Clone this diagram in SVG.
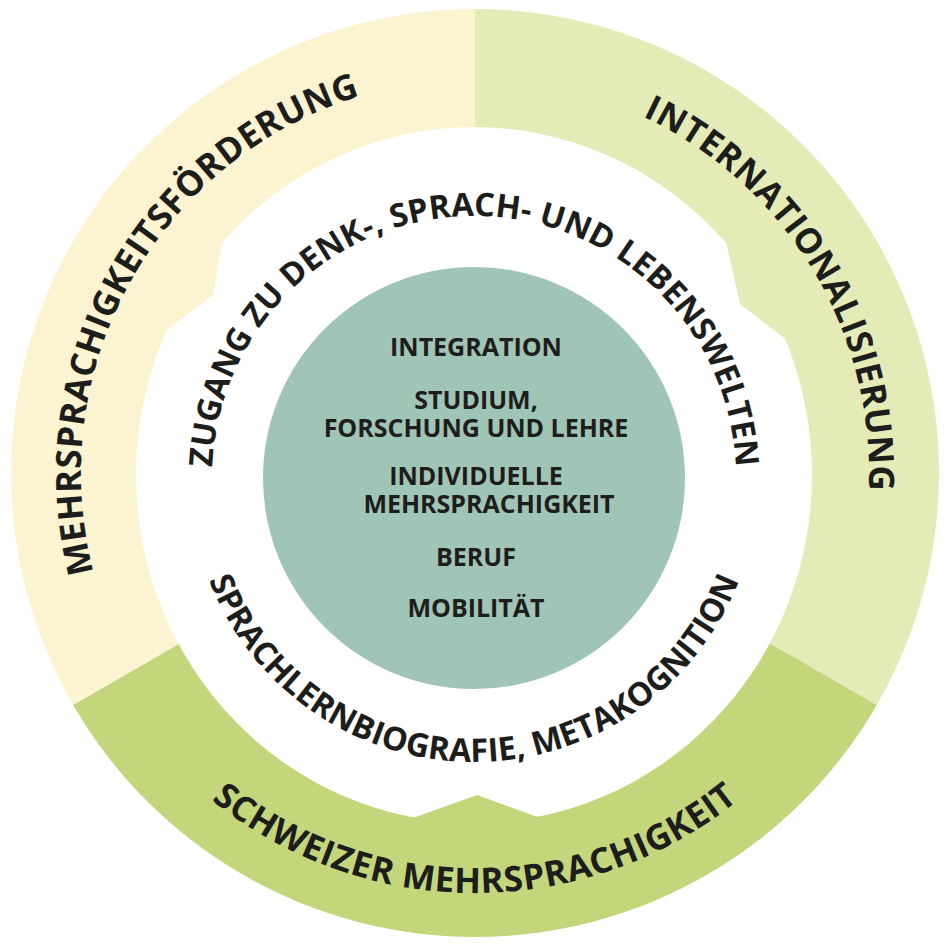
<svg xmlns="http://www.w3.org/2000/svg" xmlns:xlink="http://www.w3.org/1999/xlink" width="948" height="946" viewBox="0 0 948 946">
  <style>
    .lbl { font-family: "Open Sans", "Noto Sans", "Liberation Sans", sans-serif; font-weight: 700; fill: #1d1d1b; }
    .ring { font-size: 32.5px; }
    .outer { font-size: 35px; letter-spacing: 0.5px; }
    .core { font-size: 25px; text-anchor: middle; }
  </style>
  <defs>
    <path id="p-top" d="M227.8,567.6 A262,262 0 1 1 720.2,567.6"/>
    <path id="p-bot" d="M207.1,380.9 A284,284 0 1 0 740.9,380.9"/>
    <path id="p-left" d="M282.5,816.8 A394,394 0 0 1 131.2,280.5 A394,394 0 0 1 667.5,129.2"/>
    <path id="p-right" d="M271.5,135.6 A394,394 0 0 1 812.4,269.5 A394,394 0 0 1 678.5,810.4"/>
    <path id="p-bottom" d="M55,473 A420,420 0 0 0 475,893 A420,420 0 0 0 895,473"/>
  </defs>
  <rect width="948" height="946" fill="#ffffff"/>

  <g id="sector-mehrsprachigkeitsfoerderung">
    <path d="M475,473 L475,9 A464,464 0 0 0 73.2,705 Z" fill="#fcf4d0"/>
  </g>
  <g id="sector-internationalisierung">
    <path d="M475,473 L475,9 A464,464 0 0 1 876.8,705 Z" fill="#e5ebb6"/>
  </g>
  <g id="sector-schweizer-mehrsprachigkeit">
    <path d="M475,473 L73.2,705 A464,464 0 0 0 876.8,705 Z" fill="#c4d67c"/>
  </g>

  <g id="inner-ring">
    <ellipse cx="474" cy="475" rx="338" ry="348" fill="#ffffff"/>
    <polygon points="223,240 213,295 163,333 136,321 201,220" fill="#fcf4d0"/>
    <polygon points="725,237 740,304 792,344 818,332 747,216" fill="#e5ebb6"/>
    <polygon points="413,818 477,795 540,818 540,836 413,836" fill="#c4d67c"/>
  </g>

  <g id="core">
    <circle cx="474" cy="478" r="211" fill="#a0c4b5"/>
  </g>

  <g id="connectors"></g>

  <g id="label-mehrsprachigkeitsfoerderung">
    <text class="lbl outer"><textPath xlink:href="#p-left" href="#p-left" startOffset="50%" text-anchor="middle">MEHRSPRACHIGKEITSFÖRDERUNG</textPath></text>
  </g>
  <g id="label-internationalisierung">
    <text class="lbl outer"><textPath xlink:href="#p-right" href="#p-right" startOffset="50%" text-anchor="middle">INTERNATIONALISIERUNG</textPath></text>
  </g>
  <g id="label-schweizer-mehrsprachigkeit">
    <text class="lbl outer"><textPath xlink:href="#p-bottom" href="#p-bottom" startOffset="50%" text-anchor="middle">SCHWEIZER MEHRSPRACHIGKEIT</textPath></text>
  </g>
  <g id="label-zugang">
    <text class="lbl ring"><textPath xlink:href="#p-top" href="#p-top" startOffset="50%" text-anchor="middle">ZUGANG ZU DENK-, SPRACH- UND LEBENSWELTEN</textPath></text>
  </g>
  <g id="label-sprachlernbiografie">
    <text class="lbl ring"><textPath xlink:href="#p-bot" href="#p-bot" startOffset="50%" text-anchor="middle">SPRACHLERNBIOGRAFIE, METAKOGNITION</textPath></text>
  </g>

  <g id="core-labels">
    <text class="lbl core" x="476" y="356">INTEGRATION</text>
    <text class="lbl core" x="476" y="409">STUDIUM,</text>
    <text class="lbl core" x="476" y="437">FORSCHUNG UND LEHRE</text>
    <text class="lbl core" x="476" y="485">INDIVIDUELLE</text>
    <text class="lbl core" x="489" y="513">MEHRSPRACHIGKEIT</text>
    <text class="lbl core" x="476" y="566">BERUF</text>
    <text class="lbl core" x="476" y="617">MOBILITÄT</text>
  </g>
</svg>
